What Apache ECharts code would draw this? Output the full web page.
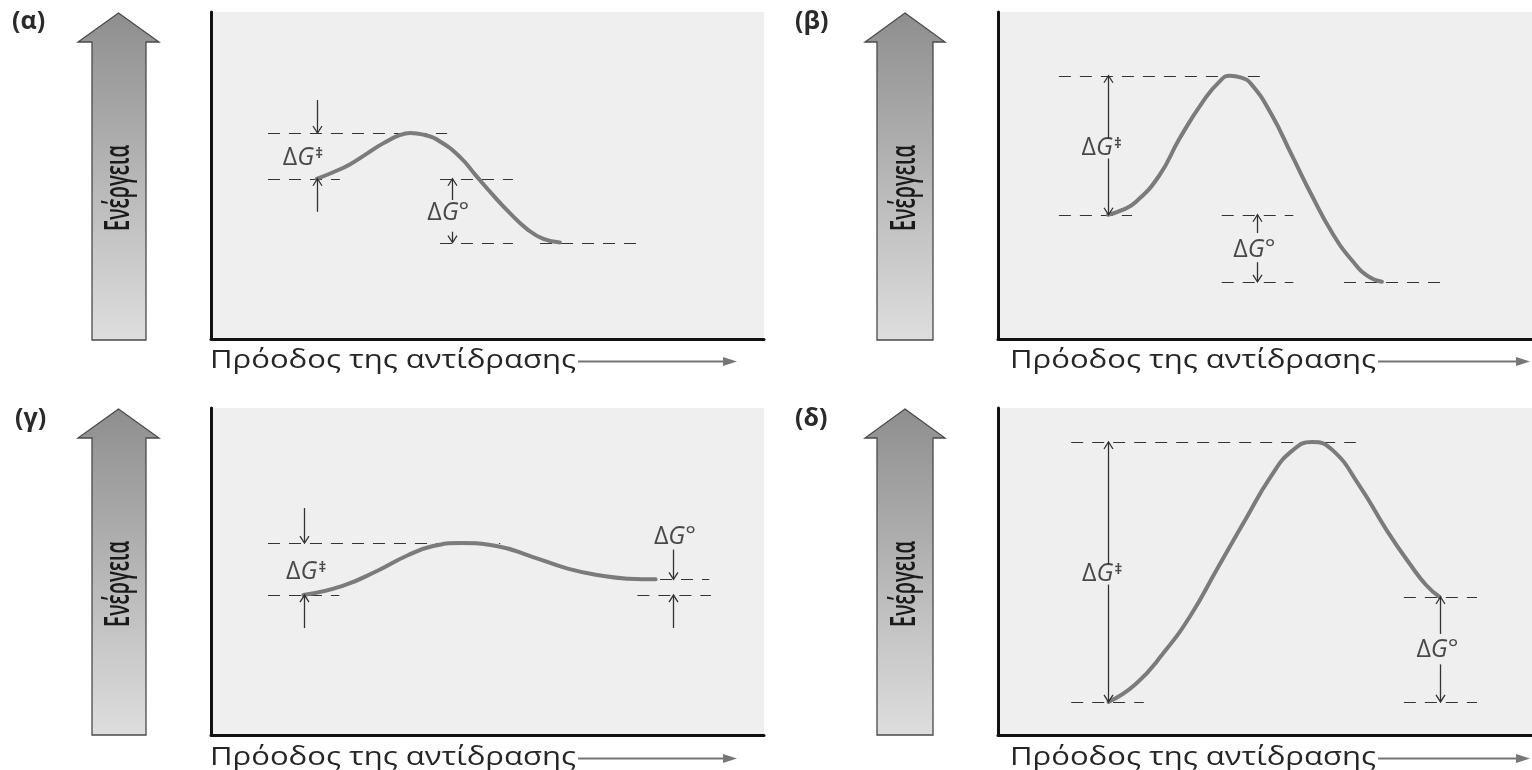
<!DOCTYPE html>
<html><head><meta charset="utf-8">
<script src="https://cdn.jsdelivr.net/npm/echarts@6/dist/echarts.min.js"></script>
<style>html,body{margin:0;padding:0;background:#fff}#c{width:1532px;height:770px}</style>
</head><body><div id="c"></div>
<script>
// ---------- DATA (x: reaction progress 0-100, y: energy 0-100, per panel) ----------
const panelNames = ['(α)', '(β)', '(γ)', '(δ)'];
const energyTitle = 'Ενέργεια';
const progressTitle = 'Πρόοδος της αντίδρασης';

// energy profile curves [progress, energy]
const curveA = [[19.1,49],[22.1,51.0],[25.1,53.4],[28.2,56.7],[31.2,59.9],[34.2,62.4],[36.0,63],[38.4,62.5],[41.4,60.4],[45.0,55.7],[48.0,49.8],[51.0,44.0],[54.1,38.4],[57.1,33.7],[60.1,30.6],[63.1,29.5]];
const curveB = [[20.6,38],[23.2,39.4],[25.8,41.9],[30.2,50],[34.0,61.3],[38.5,72.9],[41.7,79.1],[43.4,80.5],[45.4,80.0],[47.4,78],[51.2,68.7],[55.0,56.3],[58.8,43.8],[62.6,32.4],[66.5,23.6],[69.5,19.0],[71.9,17.5]];
const curveC = [[16.7,42.8],[23.8,45.6],[30.3,50.4],[35.5,54.9],[40,57.7],[45.2,58.7],[51.6,57.8],[58.1,54.5],[64.5,50.9],[71,48.6],[75.5,47.8],[80.4,47.6]];
const curveD = [[20.7,10.1],[25.8,15.6],[30.9,24.9],[36,36.4],[41,50.7],[46.1,65.2],[51.2,79.3],[55,86.8],[58.8,89.6],[62.6,87.2],[67.7,76.2],[72.8,62.6],[77.3,51.9],[80.2,45.8],[82.7,42.2]];

// dashed reference levels [fromProgress, toProgress, energy]
const levelsA = [[10.3,42.7,63],[10.3,23.3,49],[41.4,54.6,49],[41.4,54.6,29.5],[59.5,77.6,29.5]];
const levelsB = [[11.4,49.9,80.5],[11.4,25.1,38],[41.9,55.3,38],[41.9,55.3,17.5],[64.8,83.3,17.5]];
const levelsC = [[10.3,52.3,58.7],[10.3,23.2,42.8],[77.4,90.1,47.6],[77.1,90.4,42.8]];
const levelsD = [[13.7,67,89.6],[13.7,27.3,10.1],[76,89.7,42.2],[76,89.7,10.1]];

// arrows [progress, fromEnergy, toEnergy]
const arrowsA = [[19.1,73.1,63],[19.1,38.9,49],[43.5,42.5,49],[43.5,32.8,29.5]];
const arrowsB = [[20.6,61.5,80.5],[20.6,55.2,38],[48.5,32.4,38],[48.5,23.5,17.5]];
const arrowsC = [[16.8,69.4,58.7],[16.8,32.7,42.8],[83.5,56.7,47.6],[83.5,32.7,42.8]];
const arrowsD = [[20.6,52.3,89.6],[20.6,46,10.1],[82.8,30.9,42.2],[82.8,21.6,10.1]];

// labels [progress, energy, text]
const labelsA = [[16.6,55.4,'ΔG‡'],[42.9,38.5,'ΔG°']];
const labelsB = [[19.4,58.4,'ΔG‡'],[48,27.2,'ΔG°']];
const labelsC = [[17.2,49.9,'ΔG‡'],[83.9,60.6,'ΔG°']];
const labelsD = [[19.5,49.2,'ΔG‡'],[82.3,26,'ΔG°']];

// ---------- LAYOUT / STYLE ----------
const FONT = '"Open Sans", "Noto Sans", sans-serif';
const grids = [
  {left:211, top:12, width:553, height:327},
  {left:998, top:12, width:534, height:327},
  {left:211, top:408, width:553, height:327},
  {left:998, top:408, width:534, height:327}
];
const deco = [
  {lab:[12,22], hx0:78, sx0:92, sx1:146, hx1:159, top:13, base:42, bottom:340, title:[210,361], tEnd:737},
  {lab:[795,22], hx0:865, sx0:877, sx1:933, hx1:945, top:13, base:42, bottom:340, title:[1010,361], tEnd:1530},
  {lab:[15,419], hx0:78, sx0:92, sx1:146, hx1:159, top:409, base:438, bottom:735, title:[210,758], tEnd:737},
  {lab:[795,419], hx0:865, sx0:877, sx1:933, hx1:945, top:409, base:438, bottom:735, title:[1010,758], tEnd:1530}
];
const curves = [curveA, curveB, curveC, curveD];
const levels = [levelsA, levelsB, levelsC, levelsD];
const arrows = [arrowsA, arrowsB, arrowsC, arrowsD];
const labels = [labelsA, labelsB, labelsC, labelsD];

const chart = echarts.init(document.getElementById('c'), null, {renderer:'canvas'});

const cv = document.createElement('canvas').getContext('2d');
function measure(text, size, weight) {
  cv.font = (weight||'normal') + ' ' + size + 'px ' + FONT;
  return cv.measureText(text).width;
}

function renderLevel(params, api) {
  const a = api.coord([api.value(0), api.value(2)]);
  const b = api.coord([api.value(1), api.value(2)]);
  const y = Math.round(a[1]) + 0.5;
  return {type:'line', shape:{x1:a[0], y1:y, x2:b[0], y2:y},
    style:{stroke:'#333', lineWidth:1.2, lineDash:[12,9]}};
}
function renderArrow(params, api) {
  const a = api.coord([api.value(0), api.value(1)]);
  const b = api.coord([api.value(0), api.value(2)]);
  const x = Math.round(a[0]) + 0.5;
  const dir = b[1] > a[1] ? 1 : -1;
  return {type:'group', children:[
    {type:'line', shape:{x1:x, y1:a[1], x2:x, y2:b[1]}, style:{stroke:'#333', lineWidth:1.3}},
    {type:'polyline', shape:{points:[[x-4.5, b[1]-dir*7],[x, b[1]],[x+4.5, b[1]-dir*7]]},
      style:{stroke:'#333', lineWidth:1.3, fill:null}}
  ]};
}

const xAxis = [], yAxis = [], series = [], graphic = [];
grids.forEach((g, i) => {
  const axisCommon = {gridIndex:i, type:'value', min:0, max:100,
    axisLine:{show:true, onZero:false, lineStyle:{color:'#111', width:3}},
    axisTick:{show:false}, axisLabel:{show:false}, splitLine:{show:false}};
  xAxis.push(Object.assign({}, axisCommon));
  yAxis.push(Object.assign({}, axisCommon));
  series.push({type:'line', xAxisIndex:i, yAxisIndex:i, data:curves[i], smooth:0.5,
    symbol:'none', lineStyle:{color:'#7b7b7b', width:4, cap:'round'}, z:3, silent:true});
  series.push({type:'custom', xAxisIndex:i, yAxisIndex:i, data:levels[i], renderItem:renderLevel, z:2, silent:true});
  series.push({type:'custom', xAxisIndex:i, yAxisIndex:i, data:arrows[i], renderItem:renderArrow, z:4, silent:true});
  series.push({type:'scatter', xAxisIndex:i, yAxisIndex:i, data:labels[i], symbolSize:1,
    itemStyle:{color:'transparent'}, silent:true, z:5,
    label:{show:true, position:'inside', align:'center', verticalAlign:'middle',
      formatter: p => p.value[2] === 'ΔG‡' ? '{d|Δ}{g|G}{s|‡}' : '{d|Δ}{g|G}{o|°}',
      rich:{
        d:{fontSize:25, fontFamily:FONT, color:'#1e1e1e'},
        g:{fontSize:25, fontFamily:FONT, fontStyle:'italic', color:'#1e1e1e'},
        s:{fontSize:15, fontFamily:FONT, fontWeight:'bold', color:'#1e1e1e', padding:[0,0,9,1]},
        o:{fontSize:25, fontFamily:FONT, color:'#1e1e1e'}
      }}});

  const d = deco[i];
  // energy arrow
  graphic.push({type:'polygon', silent:true,
    shape:{points:[[(d.hx0+d.hx1)/2, d.top],[d.hx1, d.base],[d.sx1, d.base],[d.sx1, d.bottom],[d.sx0, d.bottom],[d.sx0, d.base],[d.hx0, d.base]]},
    style:{fill:{type:'linear', x:0, y:0, x2:0, y2:1, colorStops:[{offset:0, color:'#8e8e8e'},{offset:1, color:'#dedede'}]},
      stroke:'#4a4a4a', lineWidth:1.3}});
  const ew = measure(energyTitle, 34, '600');
  graphic.push({type:'text', silent:true, x:(d.sx0+d.sx1)/2, y:d.top + 175, rotation:Math.PI/2, scaleX:86/ew,
    style:{text:energyTitle, fontSize:34, fontWeight:'600', fontFamily:FONT, fill:'#1a1a1a', align:'center', verticalAlign:'middle'}});
  // panel letter
  graphic.push({type:'text', silent:true, x:d.lab[0], y:d.lab[1],
    style:{text:panelNames[i], fontSize:25, fontWeight:'bold', fontFamily:FONT, fill:'#2a2a2a', verticalAlign:'middle'}});
  // progress title + arrow
  const tw = measure(progressTitle, 25);
  const sx = 366 / tw;
  graphic.push({type:'text', silent:true, x:d.title[0], y:d.title[1], scaleX:sx,
    style:{text:progressTitle, fontSize:25, fontFamily:FONT, fill:'#262626', verticalAlign:'middle'}});
  const ax0 = d.title[0] + 366 + 2;
  graphic.push({type:'line', silent:true, shape:{x1:ax0, y1:d.title[1]+0.5, x2:d.tEnd-8, y2:d.title[1]+0.5},
    style:{stroke:'#777', lineWidth:2}});
  graphic.push({type:'polygon', silent:true, shape:{points:[[d.tEnd, d.title[1]+0.5],[d.tEnd-14, d.title[1]-4],[d.tEnd-14, d.title[1]+5]]},
    style:{fill:'#777'}});
});

chart.setOption({
  animation:false,
  backgroundColor:'#ffffff',
  grid: grids.map(g => Object.assign({show:true, backgroundColor:'#efefef', borderWidth:0}, g)),
  xAxis, yAxis, series, graphic
});
</script></body></html>
